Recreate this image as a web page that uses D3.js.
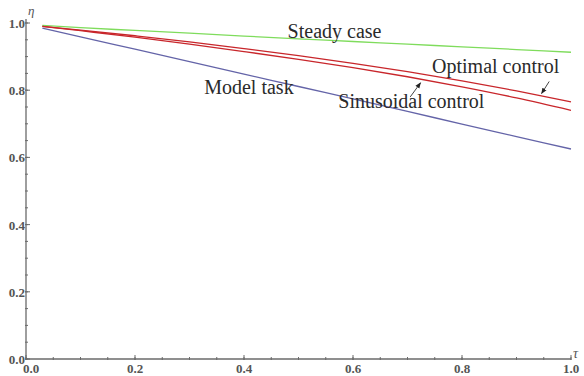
<!DOCTYPE html>
<html>
<head>
<meta charset="utf-8">
<script src="https://cdn.jsdelivr.net/npm/d3@7"></script>
<style>
  body { margin: 0; background: #fff; }
  svg { display: block; }
</style>
</head>
<body>
<div id="chart"></div>
<script>
// values
const tau = [0.03, 0.1, 0.2, 0.3, 0.4, 0.5, 0.6, 0.7, 0.8, 0.9, 1.0]
const steady = [0.993, 0.986, 0.978, 0.970, 0.961, 0.953, 0.945, 0.937, 0.929, 0.921, 0.913]
const optimal = [0.990, 0.979, 0.962, 0.944, 0.924, 0.903, 0.880, 0.855, 0.828, 0.798, 0.765]
const sinusoidal = [0.990, 0.977, 0.958, 0.937, 0.915, 0.892, 0.867, 0.840, 0.810, 0.777, 0.740]
const model = [0.985, 0.959, 0.922, 0.885, 0.848, 0.811, 0.774, 0.737, 0.699, 0.662, 0.625]

const majorTicks = [0, 0.2, 0.4, 0.6, 0.8, 1.0]
const tickLabels = ["0.0", "0.2", "0.4", "0.6", "0.8", "1.0"]

// curve annotations: text, anchor point in data units
const notes = [
  { text: "Steady case", x: 0.48, y: 0.955 },
  { text: "Optimal control", x: 0.745, y: 0.852 },
  { text: "Model task", x: 0.327, y: 0.788 },
  { text: "Sinusoidal control", x: 0.573, y: 0.748 }
]
// arrows: from (x1,y1) to (x2,y2) in data units
const arrows = [
  { x1: 0.960, y1: 0.826, x2: 0.946, y2: 0.790 },
  { x1: 0.705, y1: 0.780, x2: 0.724, y2: 0.822 }
]

const series = [
  { name: "steady", values: steady, color: "#7fdc5c" },
  { name: "optimal", values: optimal, color: "#c8262b" },
  { name: "sinusoidal", values: sinusoidal, color: "#c8262b" },
  { name: "model", values: model, color: "#6464a8" }
]

const W = 584, H = 376
const svg = d3.select("#chart").append("svg")
  .attr("width", W)
  .attr("height", H)

const x = d3.scaleLinear().domain([0, 1]).range([26, 571])
const y = d3.scaleLinear().domain([0, 1]).range([359, 23])

const axisColor = "#6a6a6a"
const textColor = "#555"
const serif = "'Liberation Serif', 'DejaVu Serif', serif"

// minor tick positions every 0.05
const minor = d3.range(0, 1.0001, 0.05)

// x axis
const gx = svg.append("g")
gx.append("line")
  .attr("x1", x(0)).attr("x2", x(1))
  .attr("y1", y(0)).attr("y2", y(0))
  .attr("stroke", axisColor).attr("stroke-width", 1.3)
gx.selectAll("line.minor")
  .data(minor)
  .enter().append("line")
  .attr("x1", d => x(d)).attr("x2", d => x(d))
  .attr("y1", y(0) - 2).attr("y2", y(0) + 1)
  .attr("stroke", axisColor).attr("stroke-width", 1)
gx.selectAll("line.major")
  .data(majorTicks)
  .enter().append("line")
  .attr("x1", d => x(d)).attr("x2", d => x(d))
  .attr("y1", y(0) - 4).attr("y2", y(0) + 1)
  .attr("stroke", axisColor).attr("stroke-width", 1)
gx.selectAll("text")
  .data(majorTicks)
  .enter().append("text")
  .attr("x", d => x(d) + (d === 0 ? 5 : 0))
  .attr("y", y(0) + 14)
  .attr("text-anchor", "middle")
  .attr("font-family", serif)
  .attr("font-size", 13)
  .attr("font-weight", "bold")
  .attr("fill", textColor)
  .text((d, i) => tickLabels[i])

// y axis
const gy = svg.append("g")
gy.append("line")
  .attr("x1", x(0)).attr("x2", x(0))
  .attr("y1", y(0)).attr("y2", y(1) - 4)
  .attr("stroke", axisColor).attr("stroke-width", 1.3)
gy.selectAll("line.minor")
  .data(minor)
  .enter().append("line")
  .attr("x1", x(0) - 1).attr("x2", x(0) + 2)
  .attr("y1", d => y(d)).attr("y2", d => y(d))
  .attr("stroke", axisColor).attr("stroke-width", 1)
gy.selectAll("line.major")
  .data(majorTicks)
  .enter().append("line")
  .attr("x1", x(0) - 1).attr("x2", x(0) + 4)
  .attr("y1", d => y(d)).attr("y2", d => y(d))
  .attr("stroke", axisColor).attr("stroke-width", 1)
gy.selectAll("text")
  .data(majorTicks)
  .enter().append("text")
  .attr("x", x(0) - 1)
  .attr("y", d => y(d) + 5)
  .attr("text-anchor", "end")
  .attr("font-family", serif)
  .attr("font-size", 13)
  .attr("font-weight", "bold")
  .attr("fill", textColor)
  .text((d, i) => tickLabels[i])

// axis names
svg.append("text")
  .attr("x", x(0) + 2).attr("y", y(1) - 8)
  .attr("font-family", serif).attr("font-style", "italic")
  .attr("font-size", 13).attr("fill", textColor)
  .text("η")
svg.append("text")
  .attr("x", x(1) + 2).attr("y", y(0) - 1)
  .attr("font-family", serif).attr("font-style", "italic")
  .attr("font-size", 14).attr("fill", textColor)
  .text("τ")

// curves
const line = d3.line()
  .x((d, i) => x(tau[i]))
  .y(d => y(d))
  .curve(d3.curveMonotoneX)

svg.selectAll("path.curve")
  .data(series)
  .enter().append("path")
  .attr("class", "curve")
  .attr("d", d => line(d.values))
  .attr("fill", "none")
  .attr("stroke", d => d.color)
  .attr("stroke-width", 1.3)

// annotations
svg.selectAll("text.note")
  .data(notes)
  .enter().append("text")
  .attr("class", "note")
  .attr("x", d => x(d.x))
  .attr("y", d => y(d.y))
  .attr("font-family", serif)
  .attr("font-size", 20)
  .attr("fill", "#2a2a2a")
  .text(d => d.text)

svg.append("defs").append("marker")
  .attr("id", "head")
  .attr("viewBox", "0 0 10 10")
  .attr("refX", 9).attr("refY", 5)
  .attr("markerWidth", 6).attr("markerHeight", 6)
  .attr("orient", "auto")
  .append("path")
  .attr("d", "M0,1 L10,5 L0,9 Z")
  .attr("fill", "#222")

svg.selectAll("line.arrow")
  .data(arrows)
  .enter().append("line")
  .attr("class", "arrow")
  .attr("x1", d => x(d.x1)).attr("y1", d => y(d.y1))
  .attr("x2", d => x(d.x2)).attr("y2", d => y(d.y2))
  .attr("stroke", "#444").attr("stroke-width", 1)
  .attr("marker-end", "url(#head)")
</script>
</body>
</html>
